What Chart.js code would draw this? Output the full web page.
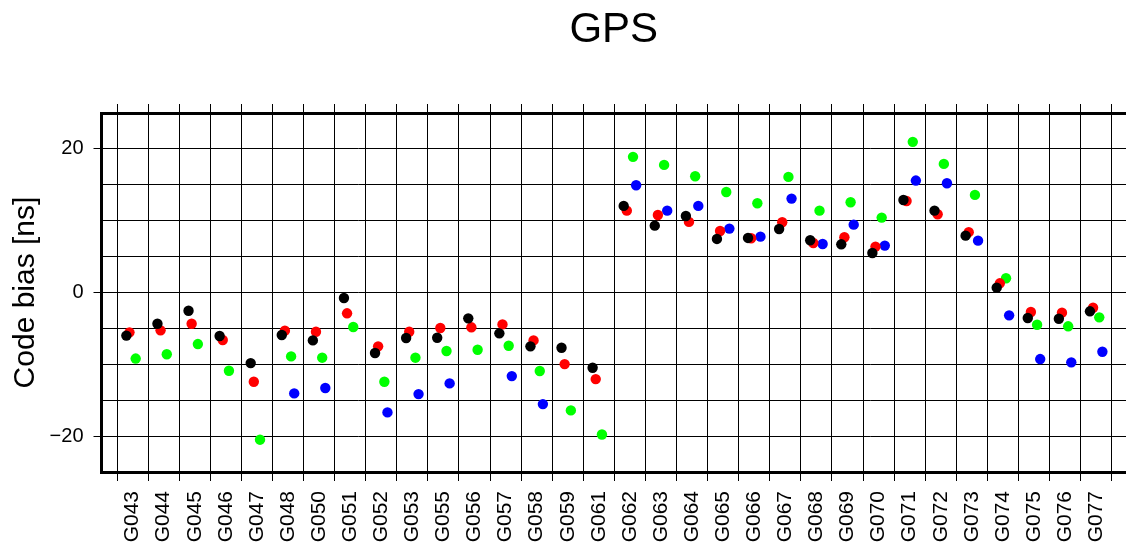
<!DOCTYPE html>
<html lang="es">
<head>
<meta charset="utf-8">
<title>GPS</title>
<script src="https://cdn.jsdelivr.net/npm/chart.js"></script>
<style>
  html, body { margin: 0; padding: 0; background: #fff; overflow: hidden; }
  canvas { display: block; }
</style>
</head>
<body>
<canvas id="myChart" width="1126" height="552"></canvas>
<script>
// Satélites GPS (eje X)
const satelites = ['G043', 'G044', 'G045', 'G046', 'G047', 'G048', 'G050', 'G051',
  'G052', 'G053', 'G055', 'G056', 'G057', 'G058', 'G059', 'G061',
  'G062', 'G063', 'G064', 'G065', 'G066', 'G067', 'G068', 'G069',
  'G070', 'G071', 'G072', 'G073', 'G074', 'G075', 'G076', 'G077'];

// Sesgo de código [ns] de cada serie (null = sin dato)
const sesgoNegro = [-6.0, -4.35, -2.54, -6.06, -9.83, -5.92, -6.67, -0.77,
  -8.43, -6.34, -6.3, -3.6, -5.69, -7.5, -7.69, -10.48,
  12.06, 9.31, 10.66, 7.46, 7.6, 8.85, 7.27, 6.71,
  5.5, 12.89, 11.4, 7.92, 0.67, -3.55, -3.65, -2.62];
const sesgoRojo = [-5.55, -5.27, -4.35, -6.62, -12.43, -5.32, -5.46, -2.9,
  -7.5, -5.46, -4.95, -4.85, -4.44, -6.67, -9.97, -12.06,
  11.4, 10.8, 9.83, 8.57, 7.55, 9.78, 6.9, 7.69,
  6.39, 12.75, 10.9, 8.4, 1.28, -2.72, -2.81, -2.12];
const sesgoVerde = [-9.2, -8.6, -7.18, -10.9, -20.5, -8.9, -9.08, -4.8,
  -12.43, -9.08, -8.15, -7.97, -7.41, -10.94, -16.42, -19.77,
  18.89, 17.77, 16.19, 14.0, 12.43, 16.1, 11.4, 12.57,
  10.43, 20.98, 17.91, 13.59, 1.98, -4.49, -4.71, -3.46];
const sesgoAzul = [null, null, null, null, null, -14.05, -13.3, null,
  -16.7, -14.15, -12.66, null, -11.64, -15.54, null, null,
  14.94, 11.4, 12.06, 8.9, 7.78, 13.08, 6.76, 9.45,
  6.53, 15.59, 15.21, 7.22, -3.18, -9.27, -9.73, -8.25];

// Ticks del eje Y que llevan etiqueta
const ticksY = [-20, 0, 20];

const fuente = "'Liberation Sans', Helvetica, Arial, sans-serif";
const ctx = document.getElementById('myChart');

// Convierte una serie en puntos {x, y}, desplazada dentro de la columna del satélite
function puntos(valores, desplazamiento) {
    return valores
        .map((v, i) => ({ x: i + 0.5 + desplazamiento, y: v }))
        .filter(p => p.y !== null);
}

function serie(valores, color, desplazamiento) {
    return {
        data: puntos(valores, desplazamiento),
        backgroundColor: color,
        borderWidth: 0,
        pointRadius: 5.2,
        pointHoverRadius: 5.2,
        showLine: false,
    };
}

// Un tick por satélite, en el centro de su columna
function ticksSatelites(scale) {
    scale.ticks = satelites.map((_, i) => ({ value: i + 0.5 }));
}

// Sin márgenes extra para las etiquetas
function sinRelleno(scale) {
    scale.paddingLeft = 0;
    scale.paddingRight = 0;
    scale.paddingTop = 0;
    scale.paddingBottom = 0;
}

const formatoY = v => {
    if (!ticksY.includes(v)) return '';
    return v < 0 ? '\u2212' + Math.abs(v) : String(v);
};

new Chart(ctx, {
    type: 'scatter',
    data: {
        datasets: [
            serie(sesgoNegro, '#000000', -0.2),
            serie(sesgoRojo, '#ff0000', -0.1),
            serie(sesgoVerde, '#00ff00', 0.1),
            serie(sesgoAzul, '#0000ff', 0.2),
        ]
    },
    options: {
        responsive: false,
        animation: false,
        devicePixelRatio: 1,
        // el marco sigue hasta el borde derecho del lienzo
        layout: { padding: 0, autoPadding: false },
        plugins: {
            legend: { display: false },
            tooltip: { enabled: false },
            title: {
                display: true,
                fullSize: false,
                text: 'GPS',
                color: '#000',
                font: { family: fuente, size: 42, weight: 'normal', lineHeight: 1.2 },
                padding: { top: 5, bottom: 48.6 },
            },
        },
        scales: {
            x: {
                type: 'linear',
                position: 'bottom',
                min: -0.5,
                max: 32.46,
                afterBuildTicks: ticksSatelites,
                afterFit: scale => { scale.height = 80; sinRelleno(scale); },
                grid: { offset: true, color: '#000', lineWidth: 1, tickLength: 9, tickColor: '#000' },
                border: { display: true, color: '#000', width: 3 },
                ticks: {
                    autoSkip: false,
                    minRotation: 90,
                    maxRotation: 90,
                    padding: 10,
                    color: '#000',
                    font: { family: fuente, size: 21 },
                    callback: (value, index) => satelites[index],
                },
            },
            x2: {
                type: 'linear',
                position: 'top',
                min: -0.5,
                max: 32.46,
                afterBuildTicks: ticksSatelites,
                afterFit: scale => { scale.height = 9; sinRelleno(scale); },
                grid: { offset: true, drawOnChartArea: false, color: '#000', tickLength: 9, tickColor: '#000' },
                border: { display: true, color: '#000', width: 3 },
                ticks: { display: false },
            },
            y: {
                type: 'linear',
                position: 'left',
                min: -25,
                max: 25,
                afterFit: scale => { scale.width = 101.5; sinRelleno(scale); },
                grid: {
                    color: '#000',
                    lineWidth: 1,
                    tickLength: 8,
                    tickColor: c => (c.tick && ticksY.includes(c.tick.value)) ? '#000' : 'rgba(0,0,0,0)',
                },
                border: { display: true, color: '#000', width: 3 },
                ticks: {
                    stepSize: 5,
                    autoSkip: false,
                    padding: 10,
                    color: '#000',
                    font: { family: fuente, size: 20 },
                    callback: formatoY,
                },
                title: {
                    display: true,
                    text: 'Code bias [ns]',
                    color: '#000',
                    font: { family: fuente, size: 30, lineHeight: 1.2 },
                    padding: { top: 8, bottom: 0 },
                },
            },
        },
    },
});
</script>
</body>
</html>
